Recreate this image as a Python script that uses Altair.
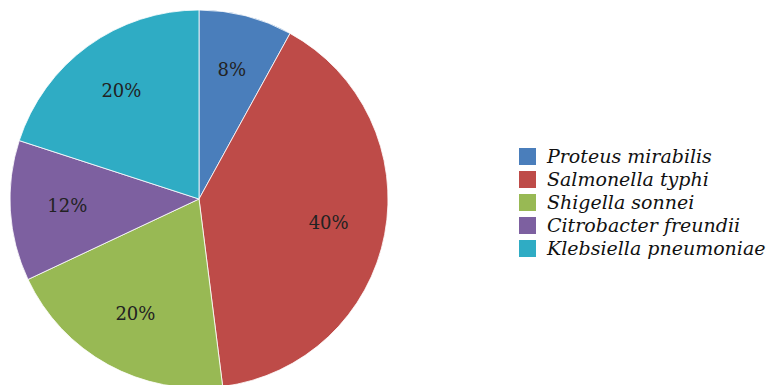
import altair as alt
import pandas as pd

categories = ["Proteus mirabilis", "Salmonella typhi", "Shigella sonnei", "Citrobacter freundii", "Klebsiella pneumoniae"]
values = [8, 40, 20, 12, 20]
labels = ["8%", "40%", "20%", "12%", "20%"]
colors = ["#4a7ebb", "#be4b48", "#98b954", "#7d60a0", "#2facc4"]

df = pd.DataFrame({"cat": categories, "val": values, "lab": labels, "ord": list(range(len(values)))})

FONT = "DejaVu Serif"

base = alt.Chart(df).encode(
    theta=alt.Theta("val:Q", stack=True),
    order=alt.Order("ord:Q"),
)

pie = base.mark_arc(outerRadius=189, stroke="white", strokeWidth=0.8).encode(
    x=alt.value(199), y=alt.value(199),
    color=alt.Color("cat:N", scale=alt.Scale(domain=categories, range=colors),
                    sort=categories,
                    legend=alt.Legend(title=None, orient="none", legendX=518, legendY=147,
                                      symbolType="square", symbolSize=289, symbolStrokeWidth=0,
                                      labelFont=FONT, labelFontSize=19, labelFontStyle="italic",
                                      labelColor="#111", rowPadding=3, labelOffset=10,
                                      labelLimit=400)),
)

text = base.mark_text(radius=132, font=FONT, fontSize=18, color="#222").encode(
    x=alt.value(199), y=alt.value(199), text="lab:N"
)

chart = (pie + text).properties(
    width=769, height=385, autosize=alt.AutoSizeParams(type="none"), padding=0
).configure_view(stroke=None)

chart.save("out.html", embed_options={"renderer": "svg", "actions": False})
